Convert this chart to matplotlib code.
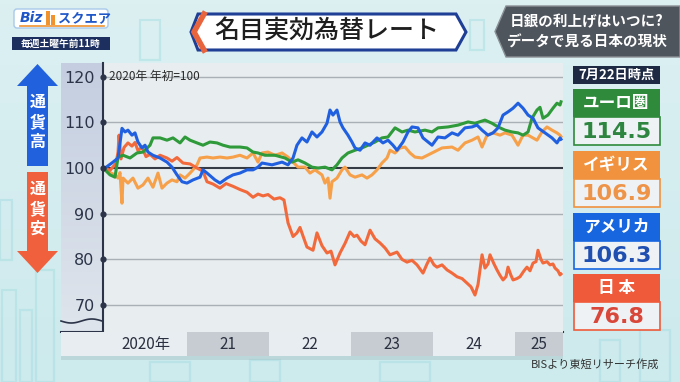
import matplotlib.pyplot as plt
import numpy as np
from matplotlib.patches import Rectangle, Polygon, FancyBboxPatch

plt.rcParams['font.family'] = ['Noto Sans CJK JP', 'DejaVu Sans']

# ---- data (decimal year, index 2020 start = 100) ----
jp_t = [2020.000, 2020.061, 2020.134, 2020.159, 2020.171, 2020.195, 2020.232, 2020.280, 2020.329, 2020.366,
        2020.402, 2020.451, 2020.500, 2020.549, 2020.610, 2020.671, 2020.756, 2020.817, 2020.878, 2020.951,
        2021.037, 2021.122, 2021.195, 2021.244, 2021.317, 2021.402, 2021.476, 2021.561, 2021.646, 2021.732,
        2021.805, 2021.866, 2021.927, 2021.988, 2022.061, 2022.134, 2022.183, 2022.232, 2022.293, 2022.341,
        2022.378, 2022.427, 2022.463, 2022.537, 2022.585, 2022.646, 2022.707, 2022.756, 2022.805, 2022.866,
        2022.927, 2022.988, 2023.037, 2023.073, 2023.122, 2023.171, 2023.232, 2023.293, 2023.354, 2023.415,
        2023.476, 2023.561, 2023.622, 2023.683, 2023.744, 2023.805, 2023.878, 2023.927, 2023.963, 2024.012,
        2024.049, 2024.110, 2024.171, 2024.232, 2024.293, 2024.354, 2024.415, 2024.463, 2024.512, 2024.549,
        2024.573, 2024.598, 2024.634, 2024.671, 2024.695, 2024.744, 2024.780, 2024.817, 2024.854, 2024.890,
        2024.915, 2024.951, 2024.976, 2025.024, 2025.061, 2025.110, 2025.146, 2025.183, 2025.220, 2025.256,
        2025.280, 2025.317, 2025.341, 2025.390, 2025.427, 2025.463, 2025.488, 2025.524, 2025.549, 2025.561]
jp_v = [100.0, 99.5, 101.0, 103.5, 107.2, 102.0, 104.5, 105.5, 104.8, 105.6,
        103.8, 104.6, 102.5, 103.0, 102.0, 102.8, 102.2, 101.5, 102.3, 101.1,
        100.9, 100.0, 99.3, 97.0, 96.5, 95.6, 96.6, 96.0, 95.3, 94.7,
        93.6, 94.3, 93.9, 94.2, 93.2, 93.5, 93.0, 88.0, 85.0, 85.8,
        87.0, 84.5, 82.7, 82.0, 85.8, 83.0, 81.4, 81.8, 78.8, 81.4,
        83.5, 86.0, 85.0, 85.3, 84.0, 83.2, 86.4, 84.5, 83.6, 82.5,
        81.0, 81.6, 80.0, 79.4, 79.8, 78.8, 77.0, 79.0, 80.3, 78.8,
        78.3, 78.8, 77.7, 77.0, 76.2, 75.8, 74.8, 74.0, 72.2, 74.5,
        77.7, 81.0, 78.1, 79.0, 81.0, 79.0, 77.7, 76.5, 75.5, 76.2,
        78.3, 76.5, 75.5, 75.8, 76.2, 77.5, 78.3, 77.5, 79.2, 79.5,
        82.0, 80.0, 79.2, 79.5, 78.8, 79.0, 78.1, 77.5, 76.6, 76.8]

us_t = [2020.000, 2020.098, 2020.159, 2020.207, 2020.244, 2020.280, 2020.329, 2020.366, 2020.402, 2020.451,
        2020.488, 2020.524, 2020.585, 2020.671, 2020.756, 2020.817, 2020.878, 2020.939, 2021.000, 2021.073,
        2021.159, 2021.195, 2021.244, 2021.341, 2021.402, 2021.488, 2021.561, 2021.646, 2021.732, 2021.805,
        2021.866, 2021.915, 2022.037, 2022.159, 2022.232, 2022.293, 2022.341, 2022.402, 2022.463, 2022.524,
        2022.585, 2022.646, 2022.707, 2022.744, 2022.780, 2022.829, 2022.866, 2022.902, 2022.963, 2023.012,
        2023.049, 2023.110, 2023.171, 2023.232, 2023.317, 2023.390, 2023.451, 2023.512, 2023.561, 2023.634,
        2023.695, 2023.744, 2023.817, 2023.878, 2023.988, 2024.061, 2024.146, 2024.232, 2024.305, 2024.390,
        2024.476, 2024.537, 2024.598, 2024.671, 2024.732, 2024.793, 2024.854, 2024.915, 2024.976, 2025.037,
        2025.098, 2025.159, 2025.220, 2025.280, 2025.366, 2025.451, 2025.512, 2025.549, 2025.561]
us_v = [100.0, 101.3, 102.2, 108.7, 107.9, 108.3, 107.2, 107.7, 105.7, 104.4,
        105.0, 103.5, 102.8, 102.2, 101.3, 100.2, 98.5, 97.0, 96.7, 97.4,
        98.0, 99.6, 98.9, 97.4, 96.7, 97.8, 98.5, 98.9, 99.6, 99.6,
        100.2, 101.1, 100.7, 101.3, 100.7, 102.2, 105.0, 106.6, 105.7, 107.9,
        106.8, 107.9, 109.8, 112.7, 111.6, 112.7, 110.1, 108.8, 107.2, 105.7,
        104.4, 103.9, 105.5, 105.0, 106.6, 105.5, 106.1, 105.0, 103.9, 105.7,
        107.9, 109.0, 108.8, 106.6, 105.0, 106.8, 106.6, 107.7, 107.2, 108.8,
        109.0, 109.4, 108.3, 107.2, 107.7, 108.8, 111.6, 112.3, 113.1, 114.2,
        113.1, 111.6, 110.9, 108.8, 107.7, 106.6, 105.5, 106.6, 106.3]

eu_t = [2020.000, 2020.061, 2020.122, 2020.159, 2020.220, 2020.305, 2020.390, 2020.463, 2020.549, 2020.585,
        2020.671, 2020.756, 2020.829, 2020.915, 2020.976, 2021.037, 2021.122, 2021.195, 2021.280, 2021.366,
        2021.439, 2021.524, 2021.646, 2021.732, 2021.805, 2021.866, 2021.951, 2022.073, 2022.195, 2022.280,
        2022.354, 2022.439, 2022.524, 2022.598, 2022.683, 2022.768, 2022.829, 2022.890, 2022.963, 2023.049,
        2023.134, 2023.207, 2023.293, 2023.378, 2023.451, 2023.537, 2023.622, 2023.695, 2023.780, 2023.902,
        2023.988, 2024.061, 2024.183, 2024.305, 2024.427, 2024.512, 2024.634, 2024.720, 2024.793, 2024.878,
        2024.963, 2025.037, 2025.098, 2025.159, 2025.207, 2025.268, 2025.305, 2025.341, 2025.402, 2025.463,
        2025.512, 2025.549, 2025.561]
eu_v = [99.6, 98.5, 98.0, 102.4, 102.8, 102.2, 103.3, 103.5, 105.0, 106.6,
        106.6, 106.1, 106.6, 105.5, 106.8, 106.1, 105.5, 105.0, 105.7, 105.5,
        105.0, 104.6, 104.6, 104.4, 103.5, 103.3, 102.8, 102.8, 102.2, 101.3,
        101.8, 101.1, 100.2, 100.0, 100.2, 99.6, 100.7, 102.2, 103.3, 103.9,
        104.4, 105.0, 105.7, 106.6, 106.8, 108.8, 107.9, 108.3, 107.9, 108.3,
        107.9, 108.8, 109.0, 109.4, 110.1, 109.8, 110.5, 109.8, 109.0, 108.3,
        107.9, 107.7, 107.2, 107.9, 110.9, 112.7, 113.3, 110.9, 111.6, 113.1,
        114.2, 113.8, 114.5]

uk_t = [2020.000, 2020.061, 2020.122, 2020.159, 2020.183, 2020.207, 2020.220, 2020.280, 2020.341, 2020.402,
        2020.463, 2020.524, 2020.585, 2020.646, 2020.695, 2020.756, 2020.817, 2020.878, 2020.915, 2020.976,
        2021.037, 2021.073, 2021.122, 2021.159, 2021.244, 2021.317, 2021.402, 2021.488, 2021.561, 2021.646,
        2021.732, 2021.805, 2021.866, 2021.915, 2021.988, 2022.073, 2022.159, 2022.232, 2022.293, 2022.354,
        2022.439, 2022.500, 2022.561, 2022.646, 2022.683, 2022.720, 2022.744, 2022.768, 2022.829, 2022.890,
        2022.927, 2022.988, 2023.049, 2023.134, 2023.195, 2023.256, 2023.317, 2023.378, 2023.439, 2023.476,
        2023.537, 2023.598, 2023.659, 2023.720, 2023.780, 2023.866, 2023.988, 2024.110, 2024.232, 2024.305,
        2024.390, 2024.476, 2024.549, 2024.598, 2024.659, 2024.732, 2024.817, 2024.878, 2024.963, 2025.037,
        2025.098, 2025.159, 2025.268, 2025.329, 2025.390, 2025.451, 2025.512, 2025.549, 2025.561]
uk_v = [99.6, 99.0, 98.5, 97.8, 99.0, 92.3, 97.8, 96.7, 97.8, 95.6,
        96.3, 97.8, 95.8, 98.9, 95.6, 96.7, 97.4, 97.0, 98.5, 97.8,
        98.9, 99.6, 100.7, 102.2, 102.4, 102.2, 102.4, 102.2, 102.4, 102.8,
        102.2, 103.3, 101.3, 103.3, 103.5, 102.8, 103.3, 102.4, 101.3, 100.2,
        100.2, 98.9, 99.6, 98.5, 96.7, 97.8, 93.4, 97.0, 97.8, 99.6,
        100.2, 98.5, 98.0, 98.5, 97.8, 98.5, 99.6, 101.1, 102.2, 103.9,
        103.3, 104.4, 104.6, 103.3, 102.4, 102.2, 103.3, 104.4, 104.6, 103.9,
        105.5, 106.1, 106.8, 104.6, 107.2, 107.7, 107.2, 107.7, 107.2, 105.0,
        107.2, 107.2, 106.1, 107.9, 109.0, 108.3, 107.7, 107.2, 106.9]

years = [2020, 2021, 2022, 2023, 2024, 2025]
year_labels = ['2020年', '21', '22', '23', '24', '25']
yticks = [70, 80, 90, 100, 110, 120]

card_names = ['ユーロ圏', 'イギリス', 'アメリカ', '日 本']
card_values = ['114.5', '106.9', '106.3', '76.8']
card_head = ['#2f8a3c', '#f0923e', '#1766e0', '#ef5a3a']
card_text = ['#2e8540', '#ee9448', '#1f4fb0', '#d9473a']

W, H = 680, 382
fig = plt.figure(figsize=(W / 100, H / 100), dpi=100)


def box(x0, y0, x1, y1):
    # pixel box (top-left origin) -> figure rect
    return [x0 / W, 1 - y1 / H, (x1 - x0) / W, (y1 - y0) / H]


bg = fig.add_axes([0, 0, 1, 1])
bg.set_xlim(0, W)
bg.set_ylim(H, 0)
bg.axis('off')

# background
grad = np.linspace(0, 1, 100)[:, None]
bg.imshow(grad, extent=(0, W, H, 0), aspect='auto',
          cmap=plt.matplotlib.colors.LinearSegmentedColormap.from_list('b', ['#dcf0f2', '#cdeaed']))
for (x0, y0, w, h) in [(2, 290, 14, 92), (20, 310, 12, 72), (36, 270, 18, 112), (150, 362, 40, 20),
                       (250, 360, 30, 22), (600, 340, 20, 42), (640, 330, 30, 52), (380, 362, 50, 20),
                       (0, 200, 12, 60), (470, 20, 14, 30), (140, 20, 20, 40)]:
    bg.add_patch(Rectangle((x0, y0), w, h, fill=False, ec='#aadfe3', lw=1.6, alpha=0.55))

# logo
bg.add_patch(FancyBboxPatch((14, 9), 94, 19, boxstyle='round,pad=0,rounding_size=3', fc='white', ec='#a9c9ea', lw=1))
bg.text(20, 18.5, 'Biz', color='#1f57c8', fontsize=10, fontweight='bold', style='italic', va='center',
        family='DejaVu Sans')
bg.add_patch(Rectangle((46, 11), 4, 14, fc='#f0922e', lw=0))
bg.add_patch(Rectangle((51, 15), 4, 10, fc='#f0922e', lw=0))
bg.text(58, 18.5, 'スクエア', color='#1f57c8', fontsize=9.5, fontweight='bold', va='center')
bg.plot([20, 104], [26, 26], color='#f0922e', lw=1.2)
bg.add_patch(Rectangle((12, 37), 98, 13, fc='#1d2f5e', lw=0))
bg.text(61, 43.5, '毎週土曜午前11時', color='white', fontsize=7, fontweight='bold', ha='center', va='center')

# title
bg.add_patch(Polygon([(198, 14), (456, 14), (466, 32), (456, 50), (198, 50), (191, 32)], closed=True,
                     fc='white', ec='#1f3f96', lw=2.2))
bg.plot([204, 194, 204], [14, 32, 50], color='#e8643c', lw=4, solid_joinstyle='miter')
bg.text(327, 32, '名目実効為替レート', fontsize=18, color='#1e1e1e', ha='center', va='center', fontweight='medium')

# top right box
bg.add_patch(Polygon([(506, 6), (680, 6), (680, 57), (506, 57), (495, 31.5)], closed=True,
                     fc='#4f555d', ec='#8a9096', lw=1))
bg.text(587, 21, '日銀の利上げはいつに?', fontsize=10.5, color='white', ha='center', va='center', fontweight='bold')
bg.text(587, 42, 'データで見る日本の現状', fontsize=10.5, color='white', ha='center', va='center', fontweight='bold')

# left arrows
bg.add_patch(Polygon([(37.5, 64), (58, 86), (48, 86), (48, 166), (27, 166), (27, 86), (17, 86)], closed=True,
                     fc='#2261dd', lw=0))
bg.add_patch(Polygon([(27, 172), (48, 172), (48, 251), (58, 251), (37.5, 273), (17, 251), (27, 251)], closed=True,
                     fc='#f0603c', lw=0))
for ch, yy in zip('通貨高', [102, 122, 142]):
    bg.text(37.5, yy, ch, color='white', fontsize=11.5, fontweight='bold', ha='center', va='center')
for ch, yy in zip('通貨安', [189, 209, 229]):
    bg.text(37.5, yy, ch, color='white', fontsize=11.5, fontweight='bold', ha='center', va='center')

# tick label area
bg.imshow(grad, extent=(61, 103, 332, 63), aspect='auto',
          cmap=plt.matplotlib.colors.LinearSegmentedColormap.from_list('t', ['#c4cee0', '#dfe5ec']), zorder=1)
wx = np.linspace(61, 102, 40)
bg.plot(wx, 321 + 2 * np.sin((wx - 61) / 41 * 2 * np.pi), color='#2b3448', lw=1.2, zorder=2)
bg.add_patch(Rectangle((61, 356), 502, 4, fc='#9fb5b8', alpha=0.35, lw=0))

# main chart
ax = fig.add_axes(box(103, 63, 563, 332))
ax.set_facecolor('#e8edef')
ax.set_xlim(2020 + (103 - 105) / 82, 2020 + (563 - 105) / 82)
ax.set_ylim(64.1, 123.0)
for v in yticks:
    if v != 100:
        ax.axhline(v, color='#aab1b6', lw=1, zorder=1)
ax.axhline(100, color='#353b45', lw=1.5, zorder=1)

ax.plot(uk_t, uk_v, color='#f7a04a', lw=2.2, zorder=3)
ax.plot(jp_t, jp_v, color='#f26a3c', lw=2.2, zorder=3)
ax.plot(eu_t, eu_v, color='#2e9a3a', lw=2.2, zorder=4)
ax.plot(us_t, us_v, color='#2060e0', lw=2.2, zorder=4)

ax.set_xticks([])
ax.set_yticks(yticks)
ax.set_yticklabels([str(v) for v in yticks], family='DejaVu Sans')
ax.tick_params(axis='y', length=0, pad=6, labelsize=11.5, labelcolor='#2b3448')
for s in ['top', 'right', 'bottom']:
    ax.spines[s].set_visible(False)
ax.spines['left'].set_color('#2b3448')
ax.spines['left'].set_linewidth(1.5)
ax.scatter([ax.get_xlim()[0]] * len(yticks), yticks, s=12, color='#2b3448', clip_on=False, zorder=6)
ax.text(0.012, 0.975, '2020年 年初=100', transform=ax.transAxes, fontsize=8.5, color='#2a2a2a', va='top')

# year band
bx = fig.add_axes(box(61, 332, 563, 356))
x0b, x1b = 2020 + (61 - 105) / 82, ax.get_xlim()[1]
bx.set_xlim(x0b, x1b)
bx.set_ylim(0, 1)
bx.axis('off')
for i, (yr, lab) in enumerate(zip(years, year_labels)):
    a = x0b if i == 0 else yr
    b = min(yr + 1, x1b)
    bx.axvspan(a, b, color='#e8edf1' if i % 2 == 0 else '#c6ccd1', lw=0)
    mid = (yr + b) / 2
    bx.text(mid, 0.48, lab, ha='center', va='center', fontsize=11, color='#2b3040')
bg.plot([61, 563], [332, 332], color='#2b3448', lw=1.5, zorder=5)

# right cards
bg.add_patch(Rectangle((573, 66), 87, 18, fc='#1e2a44', lw=0))
bg.text(616.5, 75, '7月22日時点', color='white', fontsize=9.5, fontweight='bold', ha='center', va='center')
tops = [89, 151, 213, 274]
for name, val, hc, tc, top in zip(card_names, card_values, card_head, card_text, tops):
    bg.add_patch(Rectangle((573, top), 87, 28, fc=hc, lw=0))
    bg.add_patch(Rectangle((573.5, top + 28), 86, 28, fc='#eef2f4', ec=hc, lw=1.2))
    bg.text(616.5, top + 14, name, color='white', fontsize=12, fontweight='bold', ha='center', va='center')
    bg.text(616.5, top + 43, val, color=tc, fontsize=16, fontweight='bold', ha='center', va='center',
            family='DejaVu Sans')

bg.text(659, 364, 'BISより東短リサーチ作成', ha='right', va='center', fontsize=8, color='#333')

fig.savefig('out.png', dpi=100)
